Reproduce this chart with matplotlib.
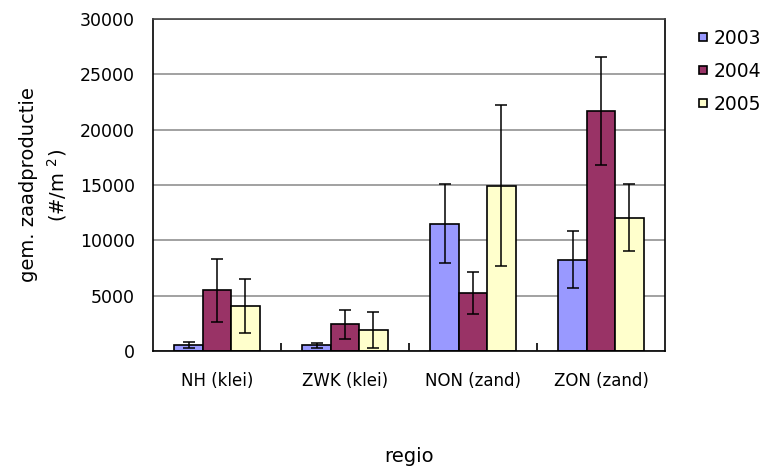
import numpy as np
import matplotlib.pyplot as plt

plt.rcParams['font.family'] = ['DejaVu Sans']

# gemiddelde zaadproductie per regio en jaar, met foutbalken
regions = ['NH (klei)', 'ZWK (klei)', 'NON (zand)', 'ZON (zand)']
years = ['2003', '2004', '2005']
mean_2003 = [520, 520, 11500, 8250]
mean_2004 = [5500, 2400, 5250, 21700]
mean_2005 = [4050, 1870, 14950, 12050]
err_2003 = [270, 230, 3550, 2580]
err_2004 = [2850, 1300, 1900, 4880]
err_2005 = [2420, 1640, 7260, 3000]
colors = ['#9999FF', '#993366', '#FFFFCC']

means = [mean_2003, mean_2004, mean_2005]
errs = [err_2003, err_2004, err_2005]

fig = plt.figure(figsize=(7.67, 4.66), dpi=100)
ax = fig.add_axes([153/767, 1 - 351/466, 512/767, 332/466])

x = np.arange(len(regions))
w = 1 / 4.5
for i, (m, e, c, yr) in enumerate(zip(means, errs, colors, years)):
    ax.bar(x + (i - 1) * w, m, w, color=c, edgecolor='black', linewidth=1.2,
           label=yr, zorder=2)
    ax.errorbar(x + (i - 1) * w, m, yerr=e, fmt='none', ecolor='black',
                elinewidth=1.1, capsize=4.3, capthick=1.1, zorder=3)

ax.set_xlim(-0.5, len(regions) - 0.5)
ax.set_ylim(0, 30000)
ax.set_yticks(np.arange(0, 30001, 5000))
ax.yaxis.grid(True, color='#888888', linewidth=1.1, zorder=0)
ax.set_axisbelow(True)

ax.set_xticks(x)
ax.set_xticklabels(regions, fontsize=12)
ax.tick_params(axis='x', length=0, pad=15)
ax.set_xticks(np.arange(0.5, len(regions) - 1, 1), minor=True)
ax.tick_params(axis='x', which='minor', direction='in', length=6, width=1.2)
ax.tick_params(axis='y', length=0, pad=13, labelsize=12.5)

for s in ax.spines.values():
    s.set_linewidth(1.2)
ax.spines['top'].set_color('#444444')

ax.set_xlabel('regio', fontsize=14, labelpad=41)
ax.set_ylabel('gem. zaadproductie\n(#/m $^{2}$)', fontsize=14, labelpad=8,
              linespacing=1.35)

ax.legend(loc='upper left', bbox_to_anchor=(1.055, 0.988), frameon=False,
          fontsize=13.5, handlelength=0.45, handleheight=0.3,
          handletextpad=0.35, labelspacing=0.75, borderaxespad=0.0,
          borderpad=0.3)

fig.savefig('out.png', dpi=100)
